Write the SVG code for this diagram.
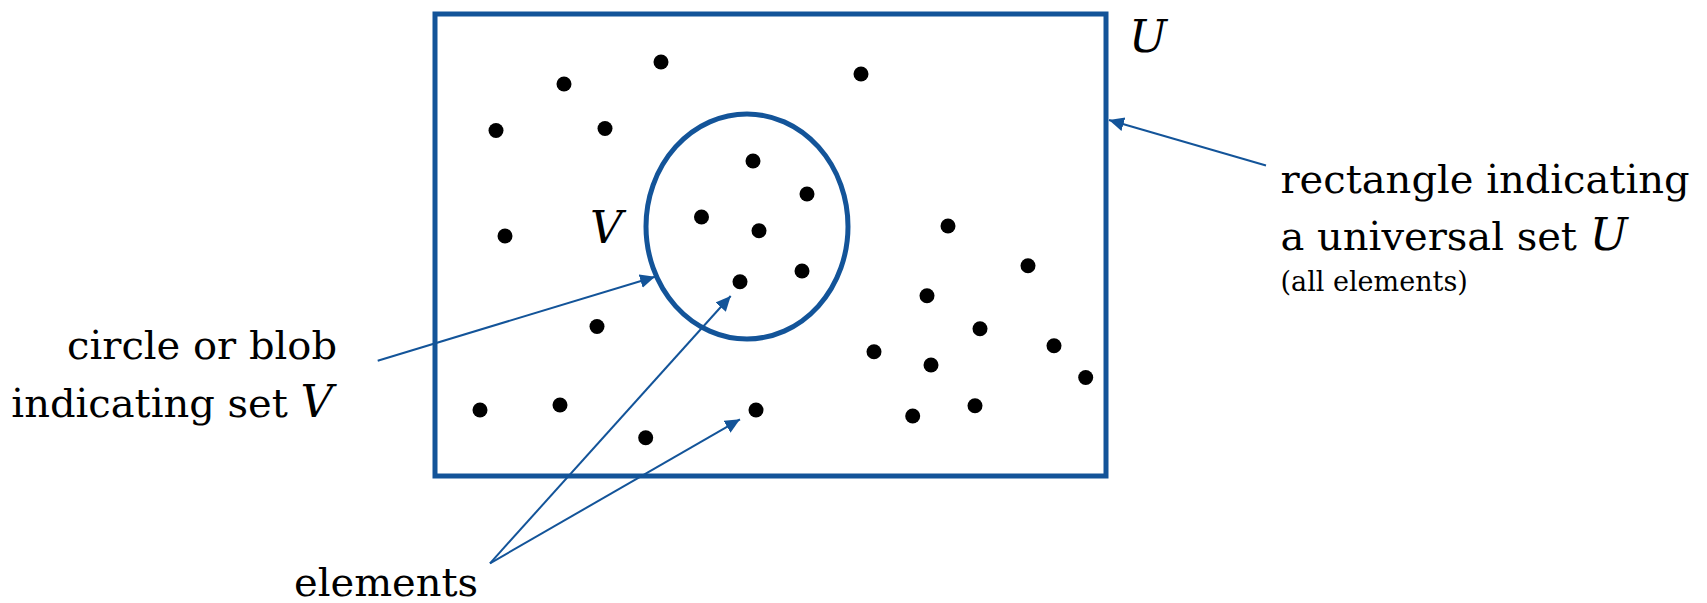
<svg xmlns="http://www.w3.org/2000/svg" width="1707" height="603" viewBox="0 0 1707 603">
<style>
.frame{fill:none;stroke:#135499;stroke-width:5}
.conn{fill:none;stroke:#135499;stroke-width:2}
.dot{fill:#000}
.lbl{font-family:"DejaVu Serif","Liberation Serif",serif;font-size:40px;fill:#000}
.sm{font-size:27px}
.it{font-style:italic;font-size:45px}
</style>
<defs>
<marker id="ah" markerUnits="userSpaceOnUse" markerWidth="18" markerHeight="16" refX="15" refY="7" orient="auto">
<path d="M0,0 L15,7 L0,14 Z" fill="#135499"/>
</marker>
</defs>
<rect width="1707" height="603" fill="#fff"/>
<g id="universe">
<rect class="frame" x="435" y="14" width="671" height="462"/>
<text class="lbl it" x="1129" y="52">U</text>
</g>
<g id="setV">
<ellipse class="frame" cx="747" cy="226.5" rx="101" ry="112.5"/>
<text class="lbl it" x="590" y="243">V</text>
</g>
<g id="elements-dots">
<circle class="dot" cx="661" cy="62" r="7.5"/>
<circle class="dot" cx="564" cy="84" r="7.5"/>
<circle class="dot" cx="861" cy="74" r="7.5"/>
<circle class="dot" cx="496" cy="130.5" r="7.5"/>
<circle class="dot" cx="605" cy="128.5" r="7.5"/>
<circle class="dot" cx="753" cy="161" r="7.5"/>
<circle class="dot" cx="807" cy="194" r="7.5"/>
<circle class="dot" cx="701.5" cy="217" r="7.5"/>
<circle class="dot" cx="759" cy="230.7" r="7.5"/>
<circle class="dot" cx="505" cy="236" r="7.5"/>
<circle class="dot" cx="948" cy="226" r="7.5"/>
<circle class="dot" cx="802" cy="271" r="7.5"/>
<circle class="dot" cx="740" cy="281.7" r="7.5"/>
<circle class="dot" cx="1028" cy="265.7" r="7.5"/>
<circle class="dot" cx="927" cy="295.7" r="7.5"/>
<circle class="dot" cx="597" cy="326.5" r="7.5"/>
<circle class="dot" cx="980" cy="328.7" r="7.5"/>
<circle class="dot" cx="874" cy="351.7" r="7.5"/>
<circle class="dot" cx="931" cy="365" r="7.5"/>
<circle class="dot" cx="1054" cy="345.7" r="7.5"/>
<circle class="dot" cx="1085.7" cy="377.5" r="7.5"/>
<circle class="dot" cx="480" cy="410" r="7.5"/>
<circle class="dot" cx="560" cy="405" r="7.5"/>
<circle class="dot" cx="756" cy="410" r="7.5"/>
<circle class="dot" cx="912.7" cy="416" r="7.5"/>
<circle class="dot" cx="975" cy="405.7" r="7.5"/>
<circle class="dot" cx="645.7" cy="437.7" r="7.5"/>
</g>
<g id="label-universe">
<text class="lbl" x="1280.5" y="193">rectangle indicating</text>
<text class="lbl" x="1280.5" y="250">a universal set <tspan class="it" font-size="40px">U</tspan></text>
<text class="lbl sm" x="1280.5" y="291">(all elements)</text>
</g>
<g id="label-set">
<text class="lbl" x="337" y="359" text-anchor="end">circle or blob</text>
<text class="lbl" x="333" y="416.5" text-anchor="end">indicating set <tspan class="it" font-size="40px">V</tspan></text>
</g>
<g id="label-elements">
<text class="lbl" x="294" y="596">elements</text>
</g>
<g id="connectors">
<line class="conn" x1="1266" y1="165.5" x2="1109" y2="120" marker-end="url(#ah)"/>
<line class="conn" x1="377.7" y1="360.7" x2="655" y2="276.7" marker-end="url(#ah)"/>
<line class="conn" x1="490" y1="563.3" x2="730.7" y2="296" marker-end="url(#ah)"/>
<line class="conn" x1="490" y1="563.3" x2="740" y2="419.3" marker-end="url(#ah)"/>
</g>
</svg>
